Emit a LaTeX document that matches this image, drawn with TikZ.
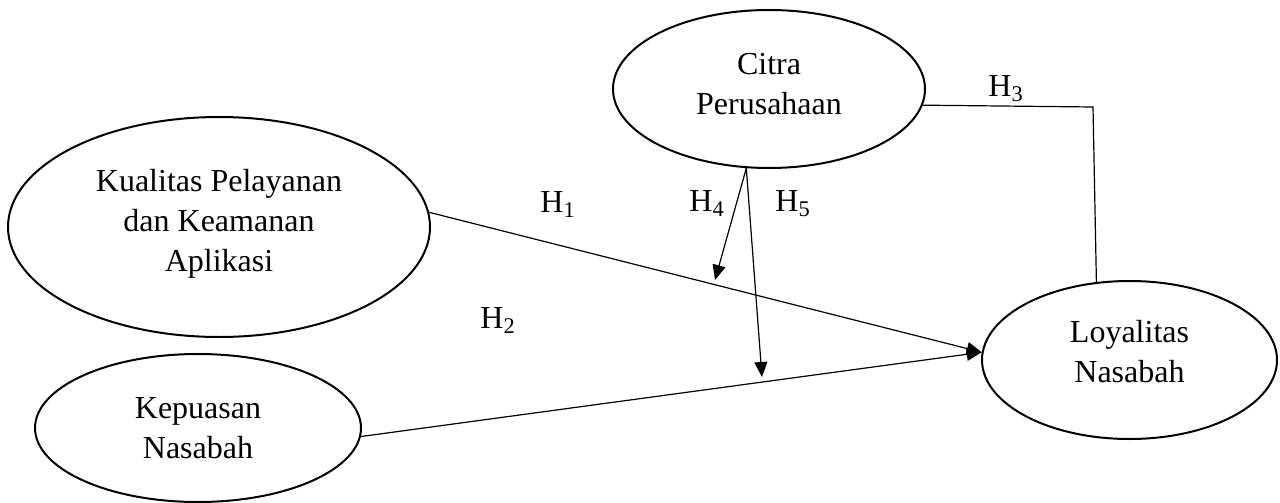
\documentclass[tikz,border=0pt]{standalone}
\usepackage{fontspec}
\setmainfont{Liberation Serif}
\usetikzlibrary{shapes.geometric,arrows.meta,calc}
\begin{document}
\begin{tikzpicture}[x=0.5pt,y=-0.5pt,
  ell/.style={draw,ellipse,line width=1pt,inner sep=0pt},
  txt/.style={font=\fontsize{16pt}{20pt}\selectfont,align=center,inner sep=0pt},
  hlab/.style={font=\fontsize{16pt}{20pt}\selectfont,inner sep=0pt,anchor=base west},
  conn/.style={line width=0.6pt},
  arr/.style={conn,-{Triangle[length=7.5pt,width=6.5pt]}}]
\useasboundingbox (0,0) rectangle (1280,503);
% ellipses
\node[ell,minimum width=211pt,minimum height=110pt] (K) at (219,227) {};
\node[txt] (Kt) at (219,224) {Kualitas Pelayanan\\dan Keamanan\\Aplikasi};
\node[ell,minimum width=156pt,minimum height=79pt] (C) at (769,89) {};
\node[txt] (Ct) at (769,84) {Citra\\Perusahaan};
\node[ell,minimum width=147.5pt,minimum height=79pt] (L) at (1129.5,360) {};
\node[txt] (Lt) at (1129.5,352) {Loyalitas\\Nasabah};
\node[ell,minimum width=163pt,minimum height=74pt] (P) at (198,428) {};
\node[txt] (Pt) at (198,428) {Kepuasan\\Nasabah};
% coordinates
\coordinate (h4end) at (715,280);
\coordinate (h5end) at (762,377);
\coordinate (h3corner) at (1093,107);
% connectors
\draw[arr] (K.4) -- (L.177);
\draw[arr] (P.-3) -- (L.177);
\draw[arr] (C.254) -- (h4end);
\draw[arr] (C.254) -- (h5end);
\draw[conn] (C.-6) -- (h3corner) -- (L.113);
% labels
\node[hlab] (H1) at (540,212) {H\textsubscript{1}};
\node[hlab] (H2) at (480,328) {H\textsubscript{2}};
\node[hlab] (H3) at (988,96) {H\textsubscript{3}};
\node[hlab] (H4) at (689,211) {H\textsubscript{4}};
\node[hlab] (H5) at (775,211) {H\textsubscript{5}};
\end{tikzpicture}
\end{document}
